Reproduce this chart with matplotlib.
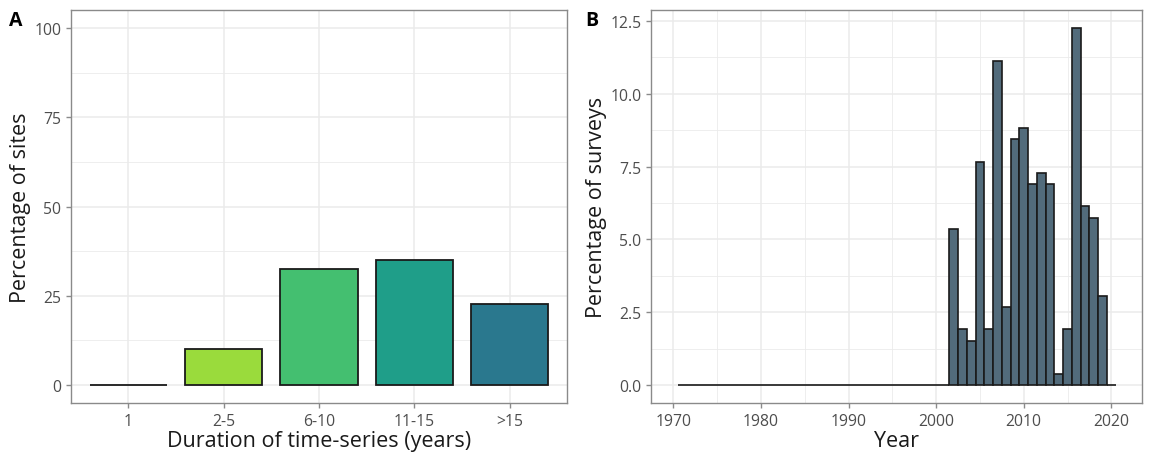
import matplotlib
matplotlib.use("Agg")
import matplotlib.pyplot as plt
from matplotlib.ticker import MultipleLocator

plt.rcParams['font.family'] = ['Open Sans', 'DejaVu Sans']

# Panel A data
dur_cats = ["1", "2-5", "6-10", "11-15", ">15"]
dur_pct = [0.0, 10.07, 32.46, 34.9, 22.57]
dur_colors = ["#FDE725", "#9ADB3C", "#44BF70", "#1F9E89", "#2A788E"]

# Panel B data
years = list(range(1971, 2021))
survey_pct_nonzero = {2002: 5.36, 2003: 1.92, 2004: 1.53, 2005: 7.66, 2006: 1.92,
                      2007: 11.11, 2008: 2.68, 2009: 8.43, 2010: 8.81, 2011: 6.90,
                      2012: 7.28, 2013: 6.90, 2014: 0.38, 2015: 1.92, 2016: 12.26,
                      2017: 6.13, 2018: 5.75, 2019: 3.07}
survey_pct = [survey_pct_nonzero.get(y, 0.0) for y in years]

W, H = 1149, 456
fig = plt.figure(figsize=(W / 100, H / 100), dpi=100)

def px_axes(l, t, r, b):
    return fig.add_axes([l / W, 1 - b / H, (r - l) / W, (b - t) / H])

tick_col = "#4D4D4D"
grid_col = "#EBEBEB"
border_col = "#8A8A8A"

def style(ax):
    ax.set_facecolor("white")
    for s in ax.spines.values():
        s.set_color(border_col)
        s.set_linewidth(1.0)
    ax.tick_params(axis="both", which="major", colors=border_col, labelcolor=tick_col,
                   labelsize=11.3, length=3.5, width=1.0)
    ax.tick_params(axis="both", which="minor", length=0)
    ax.grid(True, which="major", color=grid_col, linewidth=1.1)
    ax.grid(True, which="minor", color=grid_col, linewidth=0.6)
    ax.set_axisbelow(True)

# Panel A
axA = px_axes(71, 11, 567, 404)
style(axA)
xs = list(range(len(dur_cats)))
axA.bar(xs, dur_pct, width=0.81, color=dur_colors, edgecolor="#1a1a1a", linewidth=1.3)
axA.set_xlim(-0.6, 4.6)
axA.set_ylim(-5, 105)
axA.set_xticks(xs)
axA.set_xticklabels(dur_cats)
axA.set_yticks([0, 25, 50, 75, 100])
axA.yaxis.set_minor_locator(MultipleLocator(12.5))
axA.grid(False, which="minor", axis="x")
axA.set_xlabel("Duration of time-series (years)", fontsize=15.5, color="#1a1a1a", labelpad=1)
axA.set_ylabel("Percentage of sites", fontsize=15.5, color="#1a1a1a", labelpad=2)
fig.text(9 / W, 1 - 21 / H, "A", fontsize=14, fontweight="bold", va="center", ha="left")

# Panel B
axB = px_axes(651, 11, 1142, 404)
style(axB)
axB.bar(years, survey_pct, width=1.0, color="#526B7B", edgecolor="#1a1a1a", linewidth=1.2)
axB.set_xlim(1967.45, 2023.5)
axB.set_ylim(-0.613, 12.87)
axB.set_xticks([1970, 1980, 1990, 2000, 2010, 2020])
axB.xaxis.set_minor_locator(MultipleLocator(5))
axB.set_yticks([0, 2.5, 5, 7.5, 10, 12.5])
axB.set_yticklabels(["0.0", "2.5", "5.0", "7.5", "10.0", "12.5"])
axB.yaxis.set_minor_locator(MultipleLocator(1.25))
axB.set_xlabel("Year", fontsize=15.5, color="#1a1a1a", labelpad=1)
axB.set_ylabel("Percentage of surveys", fontsize=15.5, color="#1a1a1a", labelpad=2)
fig.text(585 / W, 1 - 21 / H, "B", fontsize=14, fontweight="bold", va="center", ha="left")

fig.savefig("out.png", dpi=100, facecolor="white")
